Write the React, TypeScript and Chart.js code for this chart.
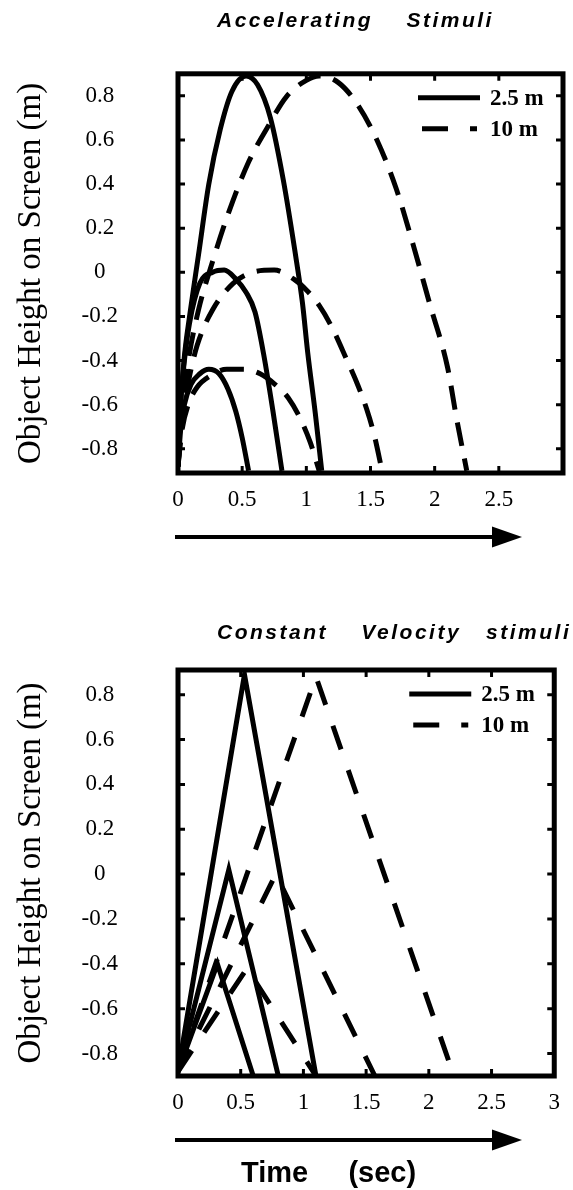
import React, { useEffect, useRef } from 'react';
import { Chart, registerables } from 'chart.js';

Chart.register(...registerables);

// ---------- tick values / labels ----------
const yTickValues = [-0.8, -0.6, -0.4, -0.2, 0, 0.2, 0.4, 0.6, 0.8];
const yTickLabels = ['-0.8', '-0.6', '-0.4', '-0.2', '0', '0.2', '0.4', '0.6', '0.8'];
const xTickValuesTop = [0, 0.5, 1, 1.5, 2, 2.5];
const xTickLabelsTop = ['0', '0.5', '1', '1.5', '2', '2.5'];
const xTickValuesBottom = [0, 0.5, 1, 1.5, 2, 2.5, 3];
const xTickLabelsBottom = ['0', '0.5', '1', '1.5', '2', '2.5', '3'];
const innerXTicks = [0.5, 1, 1.5, 2, 2.5];
const legendLabels = ['2.5 m', '10 m'];

// ---------- Accelerating stimuli (time s, height m) ----------
const accSolidBigT = [0, 0.02, 0.05, 0.09, 0.16, 0.24, 0.33, 0.42, 0.53, 0.62, 0.72, 0.82, 0.91, 0.97, 1.01, 1.07, 1.12];
const accSolidBigV = [-0.88, -0.6, -0.38, -0.2, 0.08, 0.4, 0.65, 0.82, 0.89, 0.85, 0.7, 0.42, 0.1, -0.14, -0.36, -0.64, -0.9];
const accSolidMedT = [0, 0.02, 0.05, 0.09, 0.17, 0.27, 0.36, 0.45, 0.53, 0.6, 0.67, 0.74, 0.81];
const accSolidMedV = [-0.88, -0.6, -0.4, -0.23, -0.05, 0.0, 0.01, -0.03, -0.09, -0.18, -0.38, -0.63, -0.9];
const accSolidSmallT = [0, 0.02, 0.05, 0.1, 0.17, 0.24, 0.32, 0.39, 0.45, 0.5, 0.55];
const accSolidSmallV = [-0.88, -0.72, -0.6, -0.51, -0.46, -0.44, -0.46, -0.53, -0.63, -0.75, -0.9];
const accDashBigT = [0, 0.03, 0.08, 0.16, 0.27, 0.4, 0.55, 0.69, 0.85, 1.0, 1.1, 1.25, 1.4, 1.55, 1.7, 1.83, 1.96, 2.1, 2.17, 2.25];
const accDashBigV = [-0.88, -0.62, -0.4, -0.17, 0.05, 0.28, 0.5, 0.65, 0.8, 0.87, 0.89, 0.86, 0.76, 0.6, 0.38, 0.13, -0.14, -0.43, -0.66, -0.9];
const accDashMedT = [0, 0.03, 0.08, 0.15, 0.27, 0.43, 0.58, 0.75, 0.9, 1.0, 1.1, 1.2, 1.31, 1.4, 1.47, 1.53, 1.59];
const accDashMedV = [-0.88, -0.68, -0.5, -0.33, -0.17, -0.05, 0.0, 0.01, -0.03, -0.08, -0.15, -0.25, -0.39, -0.51, -0.62, -0.74, -0.9];
const accDashSmallT = [0, 0.03, 0.08, 0.15, 0.25, 0.38, 0.51, 0.64, 0.76, 0.86, 0.95, 1.03, 1.1];
const accDashSmallV = [-0.88, -0.72, -0.6, -0.52, -0.47, -0.44, -0.44, -0.46, -0.51, -0.57, -0.66, -0.77, -0.9];

// ---------- Constant velocity stimuli ----------
const cvSolidBigT = [0, 0.53, 1.1];
const cvSolidBigV = [-0.88, 0.89, -0.9];
const cvSolidMedT = [0, 0.405, 0.8];
const cvSolidMedV = [-0.88, 0.02, -0.9];
const cvSolidSmallT = [0, 0.314, 0.6];
const cvSolidSmallV = [-0.88, -0.4, -0.9];
const cvDashBigT = [0, 1.1, 2.2];
const cvDashBigV = [-0.88, 0.88, -0.9];
const cvDashMedT = [0, 0.78, 1.57];
const cvDashMedV = [-0.88, 0.0, -0.9];
const cvDashSmallT = [0, 0.55, 1.1];
const cvDashSmallV = [-0.88, -0.42, -0.9];

const pts = (t: number[], v: number[]) => t.map((x, i) => ({ x, y: v[i] }));

type Curve = { t: number[]; v: number[]; label: string; dashed: boolean };

const accCurves: Curve[] = [
  { t: accSolidBigT, v: accSolidBigV, label: legendLabels[0], dashed: false },
  { t: accSolidMedT, v: accSolidMedV, label: legendLabels[0], dashed: false },
  { t: accSolidSmallT, v: accSolidSmallV, label: legendLabels[0], dashed: false },
  { t: accDashBigT, v: accDashBigV, label: legendLabels[1], dashed: true },
  { t: accDashMedT, v: accDashMedV, label: legendLabels[1], dashed: true },
  { t: accDashSmallT, v: accDashSmallV, label: legendLabels[1], dashed: true },
];
const cvCurves: Curve[] = [
  { t: cvSolidBigT, v: cvSolidBigV, label: legendLabels[0], dashed: false },
  { t: cvSolidMedT, v: cvSolidMedV, label: legendLabels[0], dashed: false },
  { t: cvSolidSmallT, v: cvSolidSmallV, label: legendLabels[0], dashed: false },
  { t: cvDashBigT, v: cvDashBigV, label: legendLabels[1], dashed: true },
  { t: cvDashMedT, v: cvDashMedV, label: legendLabels[1], dashed: true },
  { t: cvDashSmallT, v: cvDashSmallV, label: legendLabels[1], dashed: true },
];

type PanelProps = {
  canvasTop: number;
  height: number;
  areaTop: number;
  areaBottom: number;
  rightPad: number;
  yMin: number;
  yMax: number;
  curves: Curve[];
  smooth: boolean;
  dash: number[];
  xTicks: number[];
  xLabels: string[];
  title: string;
  titleX: number;
  titleY: number;
  caption?: string;
};

const SERIF = '"Liberation Serif", "Times New Roman", serif';
const SANS = '"Liberation Sans", Arial, Helvetica, sans-serif';

function Panel(p: PanelProps) {
  const ref = useRef<HTMLCanvasElement>(null);
  useEffect(() => {
    const canvas = ref.current;
    if (!canvas) return;
    const decor = {
      id: 'decor',
      afterDraw(chart: any) {
        const ctx = chart.ctx as CanvasRenderingContext2D;
        const a = chart.chartArea;
        const xs = chart.scales.x;
        const ys = chart.scales.y;
        ctx.save();
        ctx.strokeStyle = '#000';
        ctx.fillStyle = '#000';
        // inner ticks
        ctx.lineWidth = 3;
        ctx.setLineDash([]);
        ctx.beginPath();
        yTickValues.forEach((v) => {
          const y = ys.getPixelForValue(v);
          ctx.moveTo(a.left, y);
          ctx.lineTo(a.left + 7, y);
          ctx.moveTo(a.right, y);
          ctx.lineTo(a.right - 7, y);
        });
        innerXTicks.forEach((v) => {
          const x = xs.getPixelForValue(v);
          ctx.moveTo(x, a.bottom);
          ctx.lineTo(x, a.bottom - 7);
          ctx.moveTo(x, a.top);
          ctx.lineTo(x, a.top + 7);
        });
        ctx.stroke();
        // frame
        ctx.lineWidth = 5;
        ctx.strokeRect(a.left, a.top, a.right - a.left, a.bottom - a.top);
        // legend
        ctx.font = `bold 23px ${SERIF}`;
        ctx.textBaseline = 'middle';
        ctx.textAlign = 'left';
        legendLabels.forEach((lab, i) => {
          const y = a.top + 24 + i * 31;
          ctx.lineWidth = 5;
          ctx.setLineDash(i === 0 ? [] : [26, 22]);
          ctx.beginPath();
          ctx.moveTo(a.right - (i === 0 ? 145 : 141), y);
          ctx.lineTo(a.right - (i === 0 ? 83 : 86), y);
          ctx.stroke();
          ctx.setLineDash([]);
          ctx.fillText(lab, a.right - 73, y + 1);
        });
        // arrow
        const ay = a.bottom + 64;
        ctx.lineWidth = 4;
        ctx.beginPath();
        ctx.moveTo(175, ay);
        ctx.lineTo(495, ay);
        ctx.stroke();
        ctx.beginPath();
        ctx.moveTo(492, ay - 10.5);
        ctx.lineTo(522, ay);
        ctx.lineTo(492, ay + 10.5);
        ctx.closePath();
        ctx.fill();
        // title
        ctx.font = `bold italic 21px ${SANS}`;
        (ctx as any).letterSpacing = '2.5px';
        ctx.fillText(p.title, p.titleX, p.titleY - p.canvasTop);
        (ctx as any).letterSpacing = '0px';
        if (p.caption) {
          ctx.font = `bold 29px ${SANS}`;
          ctx.fillText(p.caption, 241, a.bottom + 98);
        }
        ctx.restore();
      },
    };

    const chart = new Chart(canvas, {
      type: 'line',
      data: {
        datasets: p.curves.map((c) => ({
          label: c.label,
          data: pts(c.t, c.v),
          borderColor: '#000',
          backgroundColor: '#000',
          borderWidth: 5,
          borderDash: c.dashed ? p.dash : [],
          pointRadius: 0,
          fill: false,
          tension: p.smooth ? 0.4 : 0,
          cubicInterpolationMode: p.smooth ? 'monotone' : 'default',
          borderJoinStyle: 'miter',
        })),
      },
      options: {
        animation: false,
        responsive: false,
        devicePixelRatio: 1,
        events: [],
        layout: { padding: { left: 0, right: p.rightPad, top: p.areaTop - p.canvasTop, bottom: 0 } },
        plugins: { legend: { display: false }, title: { display: false }, tooltip: { enabled: false } },
        scales: {
          x: {
            type: 'linear',
            min: 0,
            max: 3,
            grid: { display: false, drawTicks: false, tickLength: 0 },
            border: { display: false },
            afterBuildTicks: (s: any) => {
              s.ticks = p.xTicks.map((v) => ({ value: v }));
            },
            afterFit: (s: any) => {
              s.height = p.canvasTop + p.height - p.areaBottom;
            },
            ticks: {
              autoSkip: false,
              maxRotation: 0,
              padding: 13,
              color: '#000',
              font: { family: SERIF, size: 23 },
              callback: (val: any) => {
                const i = p.xTicks.indexOf(Number(val));
                return i >= 0 ? p.xLabels[i] : '';
              },
            },
          },
          y: {
            type: 'linear',
            min: p.yMin,
            max: p.yMax,
            grid: { display: false, drawTicks: false, tickLength: 0 },
            border: { display: false },
            afterBuildTicks: (s: any) => {
              s.ticks = yTickValues.map((v) => ({ value: v }));
            },
            afterFit: (s: any) => {
              s.width = 178;
            },
            title: {
              display: true,
              text: 'Object Height on Screen (m)',
              color: '#000',
              font: { family: SERIF, size: 33, lineHeight: 1 },
              padding: { top: 15, bottom: 0 },
            },
            ticks: {
              autoSkip: false,
              crossAlign: 'center',
              padding: 60,
              color: '#000',
              font: { family: SERIF, size: 23 },
              callback: (val: any) => {
                const i = yTickValues.findIndex((v) => Math.abs(v - Number(val)) < 1e-6);
                return i >= 0 ? yTickLabels[i] : '';
              },
            },
          },
        },
      },
      plugins: [decor],
    } as any);
    return () => chart.destroy();
  }, []);
  return (
    <canvas
      ref={ref}
      width={573}
      height={p.height}
      style={{ position: 'absolute', left: 0, top: p.canvasTop, width: 573, height: p.height, display: 'block' }}
    />
  );
}

export default function App() {
  return (
    <div style={{ position: 'absolute', left: 0, top: 0, width: 573, height: 1190, background: '#fff' }}>
      <Panel
        canvasTop={0}
        height={580}
        areaTop={63}
        areaBottom={473}
        rightPad={10}
        yMin={-0.91}
        yMax={0.9}
        curves={accCurves}
        smooth={true}
        dash={[24, 13]}
        xTicks={xTickValuesTop}
        xLabels={xTickLabelsTop}
        title="Accelerating    Stimuli"
        titleX={217}
        titleY={21}
      />
      <Panel
        canvasTop={590}
        height={600}
        areaTop={670}
        areaBottom={1076}
        rightPad={13}
        yMin={-0.9}
        yMax={0.91}
        curves={cvCurves}
        smooth={false}
        dash={[25, 22]}
        xTicks={xTickValuesBottom}
        xLabels={xTickLabelsBottom}
        title="Constant    Velocity   stimuli"
        titleX={217}
        titleY={633}
        caption="Time     (sec)"
      />
    </div>
  );
}
